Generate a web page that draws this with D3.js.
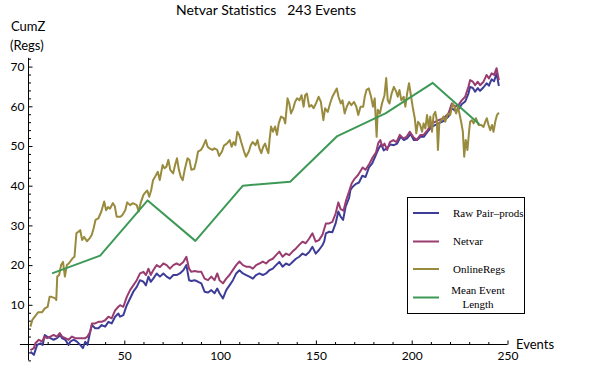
<!DOCTYPE html>
<html>
<head>
<meta charset="utf-8">
<script src="https://cdn.jsdelivr.net/npm/d3@7"></script>
<style>
  html, body { margin: 0; padding: 0; background: #fff; }
  svg { display: block; }
</style>
</head>
<body>
<div id="chart"></div>
<script>
// Series: [event, value]
const rawPairProds = [
  [1,-1.8],[2.8,-2.6],[4.5,-0.1],[6.2,0.3],[7.4,-0.1],[8.5,2.4],[9.7,2],[11.4,1.6],[13.1,1.2],[14.9,1.6],
  [16.6,2.4],[17.5,1.6],[19.2,1.2],[20.9,-0.1],[21.8,0.7],[23.5,1.2],[25.3,0.7],[27,-0.1],[28.4,-0.9],[29.6,0.7],
  [30.8,-0.1],[32.2,3.2],[33.1,4.9],[34.8,4.1],[36.5,4.1],[38.2,4.9],[40,4.5],[41.7,5.7],[43.4,5.3],[45.2,7],
  [46.9,7.8],[47.8,7],[49.5,7.4],[51.3,9.9],[53,11.6],[54.7,13.3],[56.5,14.5],[58.2,16.2],[60,15.8],[61.3,14.9],
  [62.6,17.1],[63.8,15.8],[65.1,16.6],[66.9,17.9],[68.6,17.1],[70.4,17.9],[72.1,17.1],[73.8,16.6],[75.6,17.5],[77.3,17.5],
  [79,17.9],[80.8,18.7],[82.4,20],[83.8,16.2],[85,16],[86.7,16.2],[88.5,15.8],[90.2,15.4],[91.9,13.3],[93.7,13.1],
  [95.4,13.7],[97.1,12.9],[98.5,14.1],[99.7,12.9],[101.5,11.6],[103.2,13.7],[104.9,14.9],[106.7,16.2],[108.4,17.9],[110.1,18.7],
  [111.9,17.9],[113.6,17.5],[115.3,17.1],[117.1,16.6],[118.8,17.5],[120.5,17.9],[122.3,17.5],[124,17.9],[125.7,18.7],[127.5,19.1],
  [129.2,20],[130.9,20.8],[132.6,19.6],[134.4,20.4],[136.1,20],[137.8,20.8],[139.6,21.6],[141.3,22.1],[143,22.9],[144.7,22.5],
  [146.5,23.3],[148.2,24.6],[149.9,22.9],[151.6,23.8],[153.4,25],[154.3,25.9],[155.2,28],[156.9,28.4],[158.6,28.3],[160.3,30.5],
  [161.7,33.5],[162.9,32.2],[164.2,31.4],[165.5,34.7],[167.3,36.9],[168,38.9],[169,39.6],[170.7,40.4],[172.5,40.8],[174.2,42.5],
  [175.9,42.2],[177.7,44.6],[179.4,45.6],[181.1,47.5],[182.8,49.4],[184.1,50.4],[185.4,48.9],[187.2,49.5],[188.9,50.4],[190.7,50.2],
  [192.4,50.6],[194.2,52.3],[195.9,51.5],[197.6,51.9],[199.4,53],[201.1,51.5],[202.8,51.5],[204.6,52.3],[206.3,52.3],[208.3,53.6],
  [210.6,54.9],[214,55.7],[216.6,56.3],[219.2,57.4],[220.9,59.5],[222.7,58.9],[224.4,59.3],[226.1,60.5],[227.9,61.2],[229.6,63.2],
  [230.5,64.9],[231.9,64.6],[233.1,63.7],[234.5,64.6],[235.7,63.9],[237.5,64.8],[239.1,65.8],[240.3,65.2],[241.7,66.8],[243,66.3],
  [244.3,68.3],[245.5,65.1]
];

const netvar = [
  [1,-1.4],[2.8,-0.9],[3.6,0.3],[5.4,1.2],[7.1,0.7],[8.3,2],[9.7,1.6],[11.4,2],[13.1,2.4],[14.9,2],
  [16.3,2.9],[17.5,2],[19.2,1.6],[20.9,1.2],[22.7,2],[24.4,1.6],[26.1,1.6],[27.9,1.6],[29.6,1.6],[30.8,2],
  [32.2,3.2],[33.1,5.3],[34.8,5.3],[36.5,5.7],[38.2,5.7],[40,6.1],[41.7,7],[43.4,6.6],[45.2,8.6],[46.9,9.5],
  [47.8,9.9],[49.5,9.5],[51.3,12],[53,13.7],[54.7,14.9],[56.5,16.2],[58.2,17.9],[60,18.3],[61.3,17.5],[62.6,19.1],
  [63.8,17.5],[65.1,18.7],[66.9,20],[68.6,19.5],[70.4,20.4],[72.1,20],[73.8,19.1],[75.6,20],[77.3,20.4],[79,20],
  [80.8,20.8],[82.4,22.1],[83.8,19.1],[85,18.3],[86.7,18.5],[88.5,18.3],[90.2,18.3],[91.9,16.6],[93.7,16.2],[95.4,17.1],
  [97.1,16.2],[98.5,17.9],[99.7,16.2],[101.5,15.4],[103.2,16.6],[104.9,17.5],[106.7,18.8],[108.4,20],[110.1,20.9],[111.9,20],
  [113.6,19.6],[115.3,19.6],[117.1,19.1],[118.8,20],[120.5,20.4],[122.3,20.9],[124,20.4],[125.7,21.2],[127.5,21.6],[129.2,22.5],
  [130.9,23.4],[132.6,22.1],[134.4,22.9],[136.1,22.5],[137.8,23.4],[139.6,24.2],[141.3,25.1],[143,25.9],[144.7,25.5],[146.5,26.7],
  [148.2,28],[149.9,25.9],[151.6,26.3],[153.4,27.6],[155.2,30.5],[156.9,30.5],[158.6,30.9],[160.3,33],[161.7,35.8],[162.9,34.1],
  [164.4,33.7],[165.8,36.4],[167.3,38.5],[168.7,40.6],[170.3,41.8],[172,42.7],[174.4,44.6],[175.9,44],[178,45.6],[179.6,47.1],
  [181.4,48.4],[182.6,50.8],[183.6,51.5],[184.7,49.8],[185.8,50.6],[187.2,49],[188.6,51],[190.4,51.5],[192.1,51],[193.8,52.8],
  [195.6,51.9],[197.3,52.3],[199,53.6],[200.8,52.3],[202.5,51.5],[204.6,52.8],[206.2,52.8],[208.3,54],[210.6,55.7],[214,56.5],
  [216.6,57],[219.2,58.2],[220.9,60.7],[222.7,59.9],[224.4,60.3],[226.1,61.5],[227.9,62.4],[229.6,64.9],[230.5,66.6],[231.9,66.2],
  [233.1,65.3],[234.5,66.2],[235.7,65.3],[237.5,66.2],[239.1,67.9],[240.3,67],[241.7,68.3],[243,67.9],[244.3,69.6],[245.5,66.6]
];

const onlineRegs = [
  [1,4.5],[2,6.2],[5,8.1],[7,8.1],[8.5,9.1],[10,9.5],[11,12],[12,12],[14,11.6],[14.5,11.2],
  [15,17.1],[16,17.5],[17,20],[18,20.8],[19,17.1],[20,20],[21,20.4],[23,21.7],[24,22.1],[25,28],
  [26,28.4],[27,28.8],[28,26.3],[29,27.1],[30.5,26],[32,26.8],[33,27.6],[34,29.3],[35,31.4],[36.5,31.8],
  [38,33.5],[39.5,36],[40.5,33.8],[41.5,34.6],[42.5,34.2],[44,35.6],[45,34.9],[46,32.2],[48,32.2],[49,32.6],
  [50.5,33.8],[51.5,35.8],[53,35.1],[54.5,35.6],[56.5,35.1],[57.5,33.5],[58.5,35.6],[60,37.7],[61,38.3],[62,38.8],
  [63,37.2],[64,38.8],[65,41.4],[66,42.2],[67.5,43.5],[68.5,41.4],[70,45.2],[71,44.4],[72,44.8],[73,46.5],
  [74,44],[75.5,43.1],[76.5,45.2],[77.5,46.9],[78.5,44],[79.5,42.2],[80.5,41.4],[81.5,44],[83,46.9],[84,46.5],
  [85,44],[86.5,44.2],[87.5,46.1],[88.5,48.6],[90,49],[91,49.8],[92.5,51.5],[93.5,49.8],[94.5,49.4],[96,49],
  [97,49.4],[98.5,49],[99.5,47.5],[101,48.6],[102,50.1],[103.5,50.6],[105,51.5],[106,49.8],[107,51],[108,50.2],
  [109,53.6],[110,52.8],[111,51],[112.5,48.6],[113.5,47.3],[115,48.6],[116,50.2],[117,51],[118.5,50.2],[119.5,51.5],
  [120.5,49.4],[121.5,48.2],[122.5,49.8],[123.5,50.6],[124.5,49],[125.2,48.2],[125.8,51.5],[126.6,54.9],[127.6,53.6],[128.7,54.9],
  [129.7,52.8],[130.6,55.7],[131.8,57.4],[133.2,57],[134,55.7],[135.2,62],[136.1,60.7],[137,58.2],[138.2,59.5],[139.1,61.1],
  [140.2,62],[141.4,61.5],[142.5,62.8],[143.6,59.9],[144.4,62.8],[145.3,63.2],[146.5,59.9],[147.7,60.3],[148.8,59.5],[150,60.7],
  [151.4,62.4],[152.6,61.1],[153.9,56.5],[154.8,59.5],[156.2,58.6],[157.4,60.7],[158.6,62.4],[159.5,63.2],[160.9,64.5],[161.8,62.4],
  [163,60.7],[163.9,61.5],[165,58.2],[166.1,59.9],[167.3,61.1],[168.5,60.3],[169.9,61.1],[171.1,59.9],[172.1,57.8],[173.3,59.9],
  [174.7,59.9],[175.5,62.4],[176.4,64.1],[177.6,64.5],[178.8,62.4],[179.8,59.9],[180.7,62],[181.7,52.3],[182.3,59.1],[183.4,58.2],
  [184.5,60.7],[185.8,62.8],[186.7,67.1],[187.5,61.5],[188.4,60.7],[189.5,63.2],[190.7,64.9],[191.9,63.7],[192.7,62.4],[193.6,64.1],
  [194.6,61.5],[195.8,62.4],[196.7,59.9],[197.6,63.2],[198.6,65.8],[199.7,62.4],[200.5,59.9],[201.6,57],[202.4,53.2],[203.3,56.1],
  [204.3,55.5],[205.4,53.6],[206.2,55.7],[207.1,54.4],[208,57.8],[208.8,54.8],[209.7,57.4],[210.6,53.6],[211.4,57.8],[212.3,58.6],
  [213.1,56.5],[213.7,49],[214.4,55.7],[215.4,56.5],[216.6,57.4],[217.5,56.1],[218.9,58.2],[220.1,57.8],[221.3,60.7],[222.3,59.9],
  [223.2,58.2],[224.1,59.9],[224.9,58.2],[225.8,56.1],[226.7,53.6],[227.4,47.3],[228.2,51.5],[229.1,49],[230,54],[230.5,56.1],
  [231.4,56.5],[232.3,55.7],[233.5,57],[234.9,55.3],[236.3,55.3],[237.5,54.8],[238.4,56.1],[239.2,57],[240.1,55.3],[241,54],
  [241.9,55.3],[242.7,53.6],[243.6,56.1],[244.5,57.8],[245.5,58.4]
];

const meanEventLength = [
  [12.3,17.9],[37.4,22.4],[62.2,36.3],[87.1,26.1],[111.9,40],[136.6,41],[161.2,52.5],[186.3,58.2],[211,65.9],[235.3,55.5]
];

const seriesNames  = ['Raw Pair\u2013prods', 'Netvar', 'OnlineRegs', 'Mean Event Length'];
const seriesColors = ['#3d3d99', '#993d71', '#998b3d', '#3d9956'];
const xMajorTicks  = [50, 100, 150, 200, 250];
const yMajorTicks  = [10, 20, 30, 40, 50, 60, 70];

const W = 600, H = 375;
const sans = 'Lato, "Open Sans", sans-serif';

const svg = d3.select('#chart').append('svg')
    .attr('width', W)
    .attr('height', H)
    .style('font-family', sans);

const x = d3.scaleLinear().domain([0, 250]).range([28.5, 507.5]);
const y = d3.scaleLinear().domain([0, 70]).range([344.5, 66.6]);

// Minor ticks every 10 on x, every 2 on y
const xMinorTicks = d3.range(10, 250, 10).filter(v => v % 50 !== 0);
const yMinorTicks = d3.range(-4, 73, 2).filter(v => v % 10 !== 0);

// ── Axes (Mathematica style: crossing at origin, ticks inside) ───────────
const axes = svg.append('g').attr('class', 'axes');

axes.append('line')
    .attr('x1', x(-4.5)).attr('x2', x(250))
    .attr('y1', y(0)).attr('y2', y(0))
    .attr('stroke', '#000');

axes.append('line')
    .attr('x1', x(0)).attr('x2', x(0))
    .attr('y1', y(-4)).attr('y2', y(72.2))
    .attr('stroke', '#000');

const tickAxis = (gen, size, vals) => {
    const g = axes.append('g').call(gen.tickValues(vals).tickSize(size).tickFormat(''));
    g.select('.domain').remove();
    return g;
};

tickAxis(d3.axisTop(x), 4, xMajorTicks).attr('transform', `translate(0,${y(0)})`);
tickAxis(d3.axisTop(x), 2.5, xMinorTicks).attr('transform', `translate(0,${y(0)})`);
tickAxis(d3.axisRight(y), 4, yMajorTicks).attr('transform', `translate(${x(0)},0)`);
tickAxis(d3.axisRight(y), 2.5, yMinorTicks).attr('transform', `translate(${x(0)},0)`);

// Tick labels
const xLab = axes.append('g')
    .attr('transform', `translate(0,${y(0)})`)
    .call(d3.axisBottom(x).tickValues(xMajorTicks).tickSize(0).tickPadding(7).tickFormat(d3.format('d')));
xLab.select('.domain').remove();

const yLab = axes.append('g')
    .attr('transform', `translate(${x(0)},0)`)
    .call(d3.axisLeft(y).tickValues(yMajorTicks).tickSize(0).tickPadding(4).tickFormat(d3.format('d')));
yLab.select('.domain').remove();

axes.selectAll('.tick line').attr('stroke', '#000');
axes.selectAll('.tick text')
    .attr('fill', '#000')
    .style('font-family', sans)
    .style('font-size', '12px');

// ── Series lines ─────────────────────────────────────────────────────────
const line = d3.line().x(d => x(d[0])).y(d => y(d[1]));
const allSeries = [rawPairProds, netvar, onlineRegs, meanEventLength];

svg.append('g').selectAll('path')
    .data(allSeries)
    .join('path')
    .attr('d', line)
    .attr('fill', 'none')
    .attr('stroke', (d, i) => seriesColors[i])
    .attr('stroke-width', 2)
    .attr('stroke-linejoin', 'round');

// ── Titles ───────────────────────────────────────────────────────────────
svg.append('text')
    .attr('x', 266).attr('y', 15)
    .attr('text-anchor', 'middle')
    .style('font-size', '14px')
    .attr('xml:space', 'preserve')
    .text('Netvar Statistics   243 Events');

svg.append('text').attr('x', 11).attr('y', 31).style('font-size', '13px').text('CumZ');
svg.append('text').attr('x', 10).attr('y', 50).style('font-size', '13px').text('(Regs)');
svg.append('text').attr('x', 516).attr('y', 349).style('font-size', '13px').text('Events');

// ── Legend ───────────────────────────────────────────────────────────────
const legend = svg.append('g').attr('class', 'legend')
    .style('font-family', '"Liberation Serif", "Times New Roman", serif')
    .style('font-size', '11px');

legend.append('rect')
    .attr('x', 407.5).attr('y', 197.5)
    .attr('width', 117).attr('height', 116)
    .attr('fill', '#fff')
    .attr('stroke', '#000');

const rowY = [213, 241.5, 269, 297.5];

seriesNames.forEach((name, i) => {
    legend.append('line')
        .attr('x1', 413).attr('x2', 439)
        .attr('y1', rowY[i]).attr('y2', rowY[i])
        .attr('stroke', seriesColors[i])
        .attr('stroke-width', 2);

    if (i < 3) {
        legend.append('text')
            .attr('x', 453).attr('y', rowY[i])
            .attr('dy', '0.32em')
            .text(name);
    } else {
        const t = legend.append('text').attr('text-anchor', 'middle');
        t.append('tspan').attr('x', 478).attr('y', 294).text('Mean Event');
        t.append('tspan').attr('x', 478).attr('y', 308).text('Length');
    }
});
</script>
</body>
</html>
